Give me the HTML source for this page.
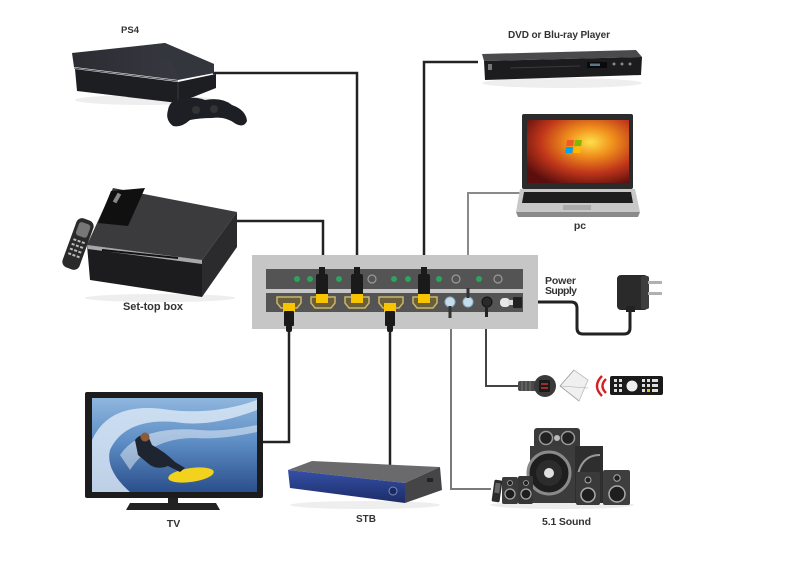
<!DOCTYPE html>
<html>
<head>
<meta charset="utf-8">
<style>
  html,body{margin:0;padding:0;background:#fff;}
  svg{display:block;}
  text{font-family:"Liberation Sans",sans-serif;font-weight:bold;fill:#333;}
</style>
</head>
<body>
<svg width="802" height="569" viewBox="0 0 802 569" xmlns="http://www.w3.org/2000/svg">
  <defs>
    <radialGradient id="win" cx="0.62" cy="0.35" r="0.75">
      <stop offset="0" stop-color="#ffe04a"/>
      <stop offset="0.3" stop-color="#f0901c"/>
      <stop offset="0.65" stop-color="#c0361a"/>
      <stop offset="1" stop-color="#5a0e0e"/>
    </radialGradient>
    <linearGradient id="sea" x1="0" y1="0" x2="0" y2="1">
      <stop offset="0" stop-color="#8fb6de"/>
      <stop offset="0.45" stop-color="#5f8fc6"/>
      <stop offset="1" stop-color="#2a4f8c"/>
    </linearGradient>
    <linearGradient id="stbblue" x1="0" y1="0" x2="0" y2="1">
      <stop offset="0" stop-color="#3550a8"/>
      <stop offset="1" stop-color="#1c2c66"/>
    </linearGradient>
    <linearGradient id="ps4top" x1="0" y1="0" x2="1" y2="0">
      <stop offset="0" stop-color="#2c2d33"/>
      <stop offset="1" stop-color="#3a3c44"/>
    </linearGradient>
  </defs>

  <!-- ================= CABLES ================= -->
  <g fill="none" stroke-linejoin="miter">
    <path d="M213,73 H357 V290" stroke="#222" stroke-width="2.5"/>
    <path d="M237,221 H323 V290" stroke="#222" stroke-width="2.5"/>
    <path d="M478,62 H424 V290" stroke="#222" stroke-width="2.5"/>
    <path d="M522,193 H468 V296" stroke="#8a8a8a" stroke-width="2"/>
    <path d="M289,312 V442 H263" stroke="#222" stroke-width="2.5"/>
    <path d="M390,312 V467" stroke="#222" stroke-width="2.5"/>
    <path d="M451,308 V489 H491" stroke="#7a7a7a" stroke-width="2"/>
    <path d="M486,308 V386 H520" stroke="#444" stroke-width="2"/>
    <path d="M515,302 H571 Q577,302 577,308 V328 Q577,334 583,334 H624 Q630,334 630,328 V309" stroke="#222" stroke-width="3"/>
  </g>

  <!-- ================= SWITCH ================= -->
  <rect x="252" y="255" width="286" height="74" fill="#c6c6c6"/>
  <rect x="266" y="269" width="257" height="20" fill="#545454"/>
  <rect x="266" y="293" width="257" height="19" fill="#545454"/>
  <g fill="#2ea35e">
    <circle cx="297" cy="279" r="3"/>
    <circle cx="310" cy="279" r="3"/>
    <circle cx="339" cy="279" r="3"/>
    <circle cx="394" cy="279" r="3"/>
    <circle cx="408" cy="279" r="3"/>
    <circle cx="439" cy="279" r="3"/>
    <circle cx="479" cy="279" r="3"/>
  </g>
  <g fill="none" stroke="#9a9a9a" stroke-width="1.2">
    <circle cx="372" cy="279" r="4"/>
    <circle cx="456" cy="279" r="4"/>
    <circle cx="498" cy="279" r="4"/>
  </g>
  <g fill="#6a5f3a" stroke="#c9b56a" stroke-width="1.5">
    <path d="M277,297 H301 V303 L297,308 H281 L277,303 Z"/>
    <path d="M311,297 H335 V303 L331,308 H315 L311,303 Z"/>
    <path d="M345,297 H369 V303 L365,308 H349 L345,303 Z"/>
    <path d="M379,297 H403 V303 L399,308 H383 L379,303 Z"/>
    <path d="M413,297 H437 V303 L433,308 H417 L413,303 Z"/>
  </g>
  <g>
    <rect x="319" y="267" width="6" height="9" fill="#1a1a1a"/>
    <rect x="316" y="274" width="12" height="21" rx="2" fill="#1a1a1a"/>
    <rect x="316" y="294" width="12" height="9" fill="#f6c400"/>
    <rect x="354" y="267" width="6" height="9" fill="#1a1a1a"/>
    <rect x="351" y="274" width="12" height="21" rx="2" fill="#1a1a1a"/>
    <rect x="351" y="294" width="12" height="9" fill="#f6c400"/>
    <rect x="421" y="267" width="6" height="9" fill="#1a1a1a"/>
    <rect x="418" y="274" width="12" height="21" rx="2" fill="#1a1a1a"/>
    <rect x="418" y="294" width="12" height="9" fill="#f6c400"/>
  </g>
  <g>
    <rect x="283" y="303" width="12" height="9" fill="#f6c400"/>
    <rect x="284" y="311" width="10" height="15" rx="1" fill="#1a1a1a"/>
    <rect x="286" y="325" width="6" height="7" rx="2" fill="#1a1a1a"/>
    <rect x="384" y="303" width="12" height="9" fill="#f6c400"/>
    <rect x="385" y="311" width="10" height="15" rx="1" fill="#1a1a1a"/>
    <rect x="387" y="325" width="6" height="7" rx="2" fill="#1a1a1a"/>
  </g>
  <circle cx="450" cy="302" r="5" fill="#c5dceb" stroke="#8fb1c8" stroke-width="1"/>
  <rect x="448.5" y="306" width="3" height="12" fill="#333"/>
  <circle cx="468" cy="302" r="5" fill="#c5dceb" stroke="#8fb1c8" stroke-width="1"/>
  <rect x="466.5" y="288" width="3" height="10" fill="#333"/>
  <circle cx="487" cy="302" r="5" fill="#2a2a2a" stroke="#111" stroke-width="1"/>
  <rect x="485" y="305" width="3" height="12" fill="#222"/>
  <rect x="500" y="298" width="10" height="9" rx="4" fill="#e8e8e8"/>
  <rect x="508" y="300" width="6" height="5" fill="#ddd"/>
  <rect x="513" y="297" width="9" height="11" rx="1" fill="#222"/>

  <text x="545" y="284" font-size="10.5" textLength="31">Power</text>
  <text x="545" y="294" font-size="10.5" textLength="32">Supply</text>

  <!-- power adapter -->
  <rect x="617" y="275" width="31" height="35" rx="4" fill="#2a2a2a"/>
  <rect x="641" y="276" width="8" height="33" rx="2" fill="#3d3d3d"/>
  <rect x="648" y="281" width="14" height="3" fill="#b0b0b0"/>
  <rect x="648" y="292" width="14" height="3" fill="#b0b0b0"/>
  <rect x="626" y="306" width="9" height="6" fill="#222"/>

  <!-- ================= PS4 ================= -->
  <ellipse cx="145" cy="100" rx="70" ry="5" fill="#eeeeee"/>
  <polygon points="75,69 178,82 216,74 216,88 178,103 77,91" fill="#1d1e22"/>
  <polygon points="72,53 165,43 214,64 214,73 178,80 74,67" fill="url(#ps4top)"/>
  <polygon points="140,46 165,43 214,64 214,73 180,79 170,60" fill="#33363d"/>
  <line x1="74" y1="68" x2="178" y2="81" stroke="#4a4c54" stroke-width="1"/>
  <line x1="178" y1="82" x2="178" y2="102" stroke="#3a3c44" stroke-width="1"/>
  <path d="M168,110 Q170,98 185,99 Q195,96 205,100 Q222,97 232,105 Q246,110 247,121 Q244,128 236,124 Q226,116 212,118 Q200,118 190,120 Q181,128 173,126 Q165,120 168,110 Z" fill="#1e1f24"/>
  <circle cx="196" cy="110" r="4" fill="#333"/>
  <circle cx="214" cy="109" r="4" fill="#333"/>
  <text x="130" y="33" font-size="9.5" text-anchor="middle">PS4</text>

  <!-- ================= SET-TOP BOX ================= -->
  <ellipse cx="160" cy="298" rx="75" ry="4" fill="#eeeeee"/>
  <polygon points="87,245 113,188 237,212 202,260" fill="#3b3b3d"/>
  <polygon points="87,245 202,260 202,297 90,280" fill="#1c1c1e"/>
  <polygon points="87,245 202,260 202,264 88,249" fill="#a8a8aa"/>
  <polygon points="202,260 237,212 237,247 202,297" fill="#2b2b2d"/>
  <polygon points="111,191 145,188 128,226 98,223" fill="#101010"/>
  <rect x="112" y="196" width="10" height="4" fill="#888" transform="rotate(-60 117 198)"/>
  <line x1="102" y1="250" x2="178" y2="258" stroke="#111" stroke-width="2"/>
  <g transform="rotate(20 78 244)">
    <rect x="69" y="218" width="18" height="52" rx="6" fill="#2a2a2a"/>
    <rect x="72" y="222" width="12" height="14" rx="3" fill="#777"/>
    <g fill="#bbb">
      <rect x="72" y="240" width="3" height="2"/><rect x="76.5" y="240" width="3" height="2"/><rect x="81" y="240" width="3" height="2"/>
      <rect x="72" y="245" width="3" height="2"/><rect x="76.5" y="245" width="3" height="2"/><rect x="81" y="245" width="3" height="2"/>
      <rect x="72" y="250" width="3" height="2"/><rect x="76.5" y="250" width="3" height="2"/><rect x="81" y="250" width="3" height="2"/>
      <rect x="72" y="255" width="3" height="2"/><rect x="76.5" y="255" width="3" height="2"/><rect x="81" y="255" width="3" height="2"/>
    </g>
  </g>
  <text x="123" y="310" font-size="11" textLength="60">Set-top box</text>

  <!-- ================= DVD ================= -->
  <text x="508" y="38" font-size="10" textLength="102">DVD or Blu-ray Player</text>
  <ellipse cx="562" cy="83" rx="80" ry="5" fill="#eeeeee"/>
  <polygon points="482,54 636,50 642,57 484,61" fill="#4a4a4c"/>
  <polygon points="484,61 642,57 641,75 485,80" fill="#1c1c1e"/>
  <rect x="587" y="62" width="20" height="6" fill="#0a0a0a"/>
  <rect x="590" y="63.5" width="10" height="2.5" fill="#5a7a8a"/>
  <line x1="510" y1="68" x2="580" y2="66" stroke="#3a3a3c" stroke-width="1"/>
  <circle cx="614" cy="64" r="1.5" fill="#888"/><circle cx="622" cy="64" r="1.5" fill="#888"/><circle cx="630" cy="64" r="1.5" fill="#888"/>
  <rect x="488" y="64" width="4" height="6" fill="#777"/>

  <!-- ================= LAPTOP ================= -->
  <rect x="522" y="114" width="111" height="75" rx="2" fill="#2b2b2b"/>
  <rect x="527" y="120" width="102" height="63" fill="url(#win)"/>
  <g transform="translate(567,140) skewX(-8)">
    <rect x="0" y="0" width="7" height="6" fill="#f05a28"/>
    <rect x="8" y="0" width="7" height="6" fill="#7fba00"/>
    <rect x="0" y="7" width="7" height="6" fill="#00a4ef"/>
    <rect x="8" y="7" width="7" height="6" fill="#ffb900"/>
  </g>
  <polygon points="520,189 635,189 640,212 516,212" fill="#c8c8c8"/>
  <polygon points="524,192 631,192 633,203 522,203" fill="#1e1e1e"/>
  <rect x="563" y="205" width="28" height="5" fill="#aaa"/>
  <polygon points="516,212 640,212 638,217 518,217" fill="#8a8a8a"/>
  <text x="580" y="229" font-size="10.5" text-anchor="middle">pc</text>

  <!-- ================= IR receiver / remote ================= -->
  <rect x="518" y="381" width="18" height="10" rx="2" fill="#4a4a4a"/>
  <g stroke="#777" stroke-width="1"><line x1="522" y1="381" x2="522" y2="391"/><line x1="526" y1="381" x2="526" y2="391"/><line x1="530" y1="381" x2="530" y2="391"/></g>
  <circle cx="545" cy="386" r="11" fill="#3a3a3a"/>
  <rect x="539" y="380" width="11" height="12" rx="1" fill="#1a1a1a"/>
  <line x1="541" y1="384" x2="548" y2="384" stroke="#c33" stroke-width="1.5"/>
  <line x1="541" y1="388" x2="548" y2="388" stroke="#c33" stroke-width="1.5"/>
  <polygon points="560,386 574,370 588,380 579,401" fill="#f0f0f0" stroke="#bbb" stroke-width="0.8"/>
  <line x1="560" y1="386" x2="588" y2="388" stroke="#aaa" stroke-width="0.6"/>
  <line x1="560" y1="386" x2="574" y2="370" stroke="#999" stroke-width="0.6"/>
  <line x1="560" y1="386" x2="579" y2="401" stroke="#999" stroke-width="0.6"/>
  <g fill="none" stroke="#d42020" stroke-width="2.4">
    <path d="M602,376 Q592,386 602,396"/>
    <path d="M606,379 Q599,386 606,393"/>
  </g>
  <rect x="610" y="376" width="53" height="19" rx="2" fill="#1a1a1a"/>
  <circle cx="632" cy="386" r="5.5" fill="#eee"/>
  <g fill="#ddd">
    <rect x="614" y="379" width="3" height="3"/><rect x="619" y="379" width="3" height="3"/><rect x="614" y="384" width="3" height="3"/><rect x="619" y="384" width="3" height="3"/><rect x="614" y="389" width="3" height="3"/><rect x="619" y="389" width="3" height="3"/>
    <rect x="642" y="379" width="3" height="3"/><rect x="647" y="379" width="3" height="3"/><rect x="652" y="379" width="6" height="3"/><rect x="642" y="384" width="3" height="3"/><rect x="647" y="384" width="3" height="3"/><rect x="652" y="384" width="6" height="3"/><rect x="642" y="389" width="3" height="3"/><rect x="652" y="389" width="6" height="3"/>
  </g>
  <rect x="647" y="389" width="3" height="3" fill="#e6c400"/>

  <!-- ================= TV ================= -->
  <rect x="85" y="392" width="178" height="106" rx="2" fill="#1c1c1c"/>
  <rect x="92" y="398" width="165" height="94" fill="url(#sea)"/>
  <path d="M92,440 Q110,400 170,410 Q215,415 257,400 L257,410 Q210,428 175,422 Q125,418 110,450 Q105,470 130,492 L92,492 Z" fill="#d8e6f4" opacity="0.85"/>
  <path d="M120,455 Q140,425 200,430 Q225,432 257,425 L257,432 Q220,440 195,438 Q150,438 130,470 Z" fill="#ffffff" opacity="0.45"/>
  <ellipse cx="191" cy="475" rx="23" ry="7" fill="#f2d21c" transform="rotate(-8 191 475)"/>
  <path d="M135,440 Q140,433 148,436 L152,445 Q165,452 175,462 L185,468 L180,472 L168,466 Q158,470 150,465 L138,455 Z" fill="#1e2430"/>
  <circle cx="145" cy="437" r="4.5" fill="#8a5a3a"/>
  <rect x="168" y="498" width="10" height="6" fill="#222"/>
  <polygon points="130,503 216,503 220,510 126,510" fill="#222"/>
  <text x="173.5" y="527" font-size="10.5" text-anchor="middle">TV</text>

  <!-- ================= STB ================= -->
  <ellipse cx="365" cy="505" rx="75" ry="4" fill="#eeeeee"/>
  <polygon points="288,470 312,461 440,467 405,483" fill="#6a6a6c"/>
  <polygon points="288,470 405,483 405,503 290,488" fill="url(#stbblue)"/>
  <polygon points="405,483 440,467 442,490 405,503" fill="#454547"/>
  <circle cx="393" cy="491" r="4" fill="#1b2a5e" stroke="#7a8aba" stroke-width="1"/>
  <rect x="427" y="478" width="6" height="4" fill="#222"/>
  <text x="366" y="522" font-size="10" text-anchor="middle">STB</text>

  <!-- ================= SPEAKERS ================= -->
  <ellipse cx="562" cy="505" rx="72" ry="4" fill="#ececec"/>
  <rect x="534" y="428" width="46" height="20" rx="3" fill="#3a3a3a"/>
  <circle cx="546" cy="438" r="6.5" fill="#222" stroke="#999" stroke-width="1.5"/>
  <circle cx="568" cy="438" r="6.5" fill="#222" stroke="#999" stroke-width="1.5"/>
  <circle cx="557" cy="438" r="3" fill="#bbb"/>
  <rect x="530" y="446" width="73" height="57" fill="#3c3c3c"/>
  <rect x="575" y="446" width="28" height="57" fill="#2e2e2e"/>
  <path d="M577,480 Q580,455 600,455" fill="none" stroke="#999" stroke-width="2"/>
  <circle cx="549" cy="473" r="21" fill="#1e1e1e" stroke="#8a8a8a" stroke-width="3"/>
  <circle cx="549" cy="473" r="13" fill="#2c2c2c"/>
  <circle cx="549" cy="473" r="5" fill="#e0e0e0"/>
  <rect x="576" y="472" width="24" height="33" rx="2" fill="#3a3a3a"/>
  <circle cx="588" cy="495" r="7" fill="#1e1e1e" stroke="#aaa" stroke-width="1.5"/>
  <circle cx="588" cy="480" r="3" fill="#222" stroke="#aaa" stroke-width="1"/>
  <rect x="603" y="470" width="27" height="35" rx="2" fill="#3e3e3e"/>
  <circle cx="617" cy="494" r="8" fill="#1e1e1e" stroke="#aaa" stroke-width="1.5"/>
  <circle cx="617" cy="478" r="3.2" fill="#222" stroke="#aaa" stroke-width="1"/>
  <rect x="502" y="477" width="16" height="27" rx="2" fill="#3a3a3a"/>
  <circle cx="510" cy="494" r="5" fill="#1e1e1e" stroke="#aaa" stroke-width="1.2"/>
  <circle cx="510" cy="483" r="2.5" fill="#222" stroke="#aaa" stroke-width="0.8"/>
  <rect x="518" y="476" width="15" height="28" rx="2" fill="#353535"/>
  <circle cx="526" cy="494" r="5" fill="#1e1e1e" stroke="#aaa" stroke-width="1.2"/>
  <circle cx="526" cy="483" r="2.5" fill="#222" stroke="#aaa" stroke-width="0.8"/>
  <rect x="493" y="480" width="8" height="22" rx="1.5" fill="#2a2a2a" transform="rotate(8 497 491)"/>
  <rect x="494.5" y="483" width="5" height="10" fill="#666" transform="rotate(8 497 491)"/>
  <text x="542" y="525" font-size="10.5" textLength="49">5.1 Sound</text>
</svg>
</body>
</html>
